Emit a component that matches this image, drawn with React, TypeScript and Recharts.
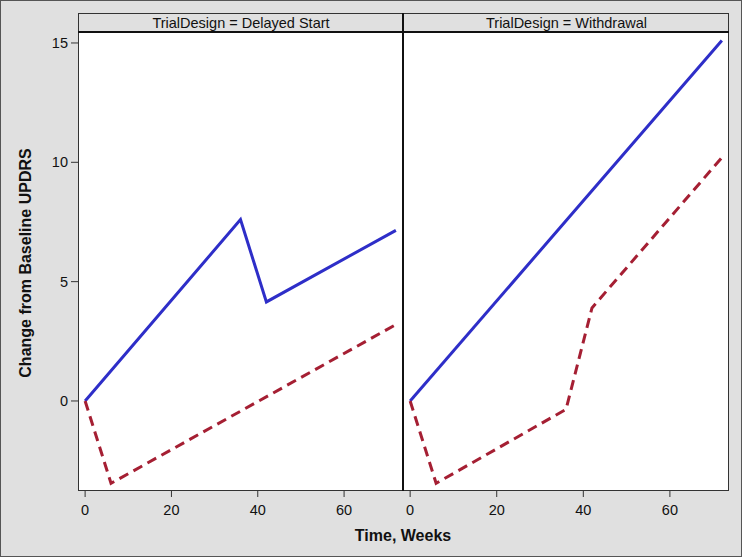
import { Line, LineChart, XAxis, YAxis } from "recharts";

// Delayed Start panel
const dsBlueWeeks = [0, 36, 42, 72];
const dsBlueValues = [0, 7.6, 4.15, 7.15];
const dsRedWeeks = [0, 6, 72];
const dsRedValues = [0, -3.45, 3.2];

// Withdrawal panel
const wdBlueWeeks = [0, 36, 72];
const wdBlueValues = [0, 7.55, 15.1];
const wdRedWeeks = [0, 6, 36, 42, 72];
const wdRedValues = [0, -3.45, -0.35, 3.9, 10.2];

const panelTitles = ["TrialDesign = Delayed Start", "TrialDesign = Withdrawal"];
const xTicks = [0, 20, 40, 60];
const yTicks = [0, 5, 10, 15];

const X_DOMAIN: [number, number] = [-1.65, 73.65];
const Y_DOMAIN: [number, number] = [-3.73, 15.46];

const BLUE = "#2e2ec8";
const RED = "#a51f33";
const FONT = "'Liberation Sans', Arial, sans-serif";

const toRows = (weeks: number[], values: number[]) =>
  weeks.map((w, i) => ({ week: w, value: values[i] }));

const tickStyle = { fontSize: 14.5, fill: "#111", fontFamily: FONT };

function Panel({
  width,
  blue,
  red,
  showY,
  rightMargin,
}: {
  width: number;
  blue: { week: number; value: number }[];
  red: { week: number; value: number }[];
  showY: boolean;
  rightMargin: number;
}) {
  return (
    <LineChart
      width={width}
      height={557}
      margin={{ top: 32, right: rightMargin, bottom: 0, left: 0 }}
    >
      <XAxis
        dataKey="week"
        type="number"
        domain={X_DOMAIN}
        ticks={xTicks}
        allowDataOverflow
        axisLine={false}
        tickLine={{ stroke: "#333" }}
        tickSize={7}
        tickMargin={8}
        height={67}
        tick={tickStyle}
      />
      <YAxis
        type="number"
        domain={Y_DOMAIN}
        ticks={yTicks}
        allowDataOverflow
        hide={!showY}
        width={78}
        axisLine={false}
        tickLine={{ stroke: "#333" }}
        tickSize={7}
        tickMargin={3}
        tick={tickStyle}
      />
      <Line
        data={blue}
        dataKey="value"
        type="linear"
        stroke={BLUE}
        strokeWidth={3}
        dot={false}
        isAnimationActive={false}
      />
      <Line
        data={red}
        dataKey="value"
        type="linear"
        stroke={RED}
        strokeWidth={3}
        strokeDasharray="10 6"
        dot={false}
        isAnimationActive={false}
      />
    </LineChart>
  );
}

export default function App() {
  return (
    <div
      style={{
        position: "fixed",
        left: 0,
        top: 0,
        width: 742,
        height: 557,
        background: "#e0e0e0",
        boxSizing: "border-box",
        border: "1px solid #555",
        fontFamily: FONT,
        overflow: "hidden",
      }}
    >
      {/* white plot background */}
      <div
        style={{ position: "absolute", left: 77, top: 31, width: 651, height: 458, background: "#fff" }}
      />
      <div style={{ position: "absolute", left: -1, top: -1 }}>
        <Panel
          width={403}
          blue={toRows(dsBlueWeeks, dsBlueValues)}
          red={toRows(dsRedWeeks, dsRedValues)}
          showY
          rightMargin={0}
        />
      </div>
      <div style={{ position: "absolute", left: 402, top: -1 }}>
        <Panel
          width={339}
          blue={toRows(wdBlueWeeks, wdBlueValues)}
          red={toRows(wdRedWeeks, wdRedValues)}
          showY={false}
          rightMargin={13}
        />
      </div>

      {/* frames */}
      <div
        style={{
          position: "absolute",
          left: 77,
          top: 12,
          width: 651,
          height: 478,
          boxSizing: "border-box",
          border: "1px solid #333",
          pointerEvents: "none",
        }}
      />
      {/* header strips */}
      {panelTitles.map((t, i) => (
        <div
          key={t}
          style={{
            position: "absolute",
            left: i === 0 ? 78 : 404,
            top: 13,
            width: i === 0 ? 324 : 323,
            height: 18,
            lineHeight: "18px",
            textAlign: "center",
            fontSize: 14.5,
            color: "#111",
            background: "#e0e0e0",
          }}
        >
          {t}
        </div>
      ))}
      <div
        style={{ position: "absolute", left: 77, top: 30, width: 651, height: 2, background: "#111" }}
      />
      <div
        style={{ position: "absolute", left: 401, top: 12, width: 2, height: 478, background: "#111" }}
      />

      {/* axis titles */}
      <div
        style={{
          position: "absolute",
          left: 25,
          top: 262,
          transform: "translate(-50%, -50%) rotate(-90deg)",
          whiteSpace: "nowrap",
          fontSize: 16,
          fontWeight: "bold",
          color: "#111",
        }}
      >
        Change from Baseline UPDRS
      </div>
      <div
        style={{
          position: "absolute",
          left: 402,
          top: 535,
          transform: "translate(-50%, -50%)",
          whiteSpace: "nowrap",
          fontSize: 16,
          fontWeight: "bold",
          color: "#111",
        }}
      >
        Time, Weeks
      </div>
    </div>
  );
}
